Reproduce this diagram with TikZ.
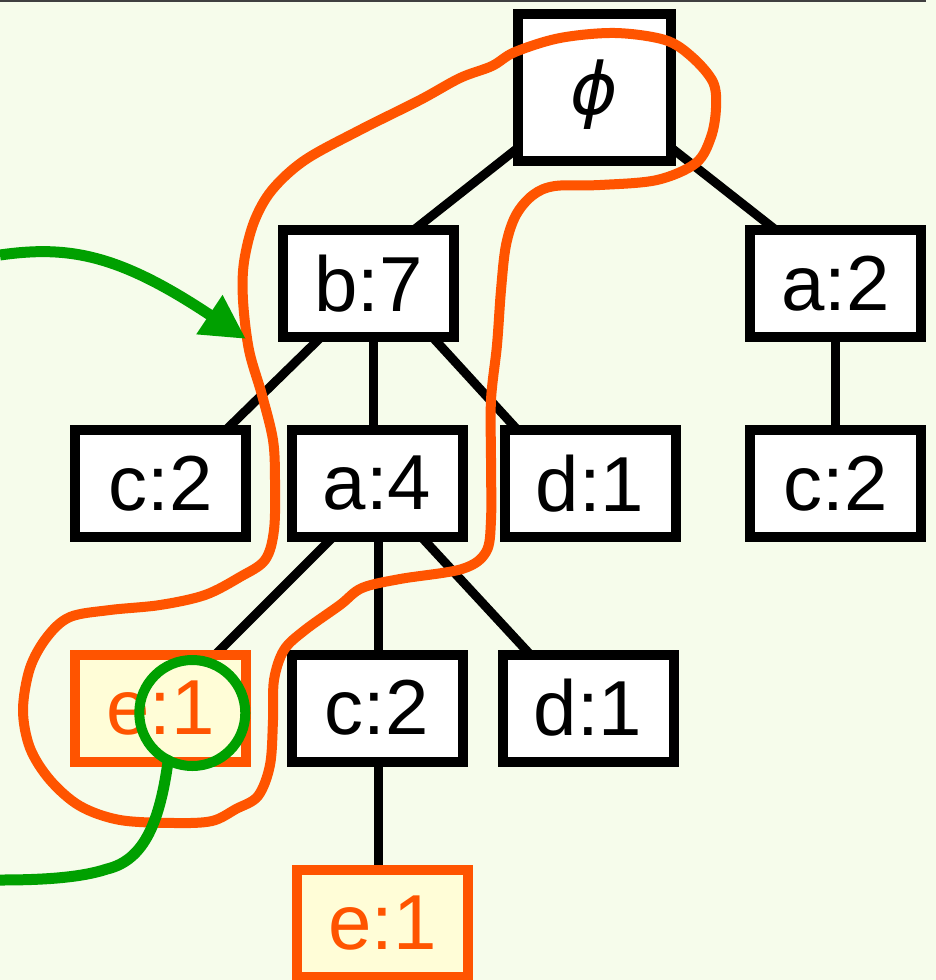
\documentclass[tikz,border=0pt]{standalone}
\usepackage{fontspec}
\setsansfont{Liberation Sans}
\newfontfamily\greekface{DejaVu Sans}
\usetikzlibrary{arrows.meta,calc}
\pgfdeclarelayer{edges}
\pgfsetlayers{edges,main}
\definecolor{paper}{RGB}{246,252,235}
\definecolor{hot}{RGB}{255,84,0}
\definecolor{mark}{RGB}{0,160,0}
\definecolor{cream}{RGB}{255,253,215}
\begin{document}
\begin{tikzpicture}[x=1pt,y=-1pt,
  item/.style={draw=black, fill=white, line width=10pt, minimum width=171pt,
    minimum height=107pt, inner sep=0pt, outer sep=0pt,
    font=\sffamily\fontsize{78}{80}\selectfont},
  hit/.style={item, draw=hot, fill=cream, text=hot},
  link/.style={line width=9pt, draw=black},
  loopline/.style={draw=hot, line width=10pt, line cap=round, line join=round},
  pointer/.style={draw=mark, line width=11pt, line cap=round}]

\begin{pgfonlayer}{edges}
  \fill[paper] (0,0) rectangle (936,980);
\end{pgfonlayer}
\useasboundingbox (0,0) rectangle (936,980);
\draw[line width=2pt, black!75] (0,1) -- (926,1);

% tree nodes
\node[item, minimum width=153pt, minimum height=147pt,
      label={[inner sep=0pt, yshift=-7pt,
              font=\greekface\itshape\fontsize{72}{72}\selectfont]center:ϕ}]
      (root) at (594.5,87.5) {};
\node[item] (b7)  at (368.8,283.4) {b:7};
\node[item] (a2)  at (835.8,283.4) {a:2};
\node[item] (c2a) at (160.8,483.4) {c:2};
\node[item] (a4)  at (377,483.4)   {a:4};
\node[item] (d1a) at (590,483.4)   {d:1};
\node[item] (c2b) at (835.8,483.4) {c:2};
\node[hit]  (e1a) at (160.8,708)   {e:1};
\node[item] (c2c) at (377,708)     {c:2};
\node[item] (d1b) at (588,708)     {d:1};
\node[hit]  (e1b) at (382.5,923.5) {e:1};

% tree edges, kept behind the boxes
\begin{pgfonlayer}{edges}
  \draw[link] (root.center) -- ($(b7)+(7,-23.4)$);
  \draw[link] (root.center) -- ($(a2)+(-21.9,-23.4)$);
  \draw[link] ($(b7)+(-9.8,16.6)$) -- ($(c2a)+(34.4,-23.4)$);
  \draw[link] ($(b7)+(4.2,16.6)$) -- ($(a4)+(-4,-23.4)$);
  \draw[link] ($(b7)+(29.7,16.6)$) -- ($(d1a)+(-45,-23.4)$);
  \draw[link] (a2.center) -- (c2b.center);
  \draw[link] ($(a4)+(-17,26.6)$) -- ($(e1a)+(19.2,-18)$);
  \draw[link] ($(a4)+(1,0)$) -- ($(c2c)+(1,0)$);
  \draw[link] ($(a4)+(19.4,26.6)$) -- ($(d1b)+(-25,-18)$);
  \draw[link] ($(c2c)+(1,0)$) -- ($(e1b)+(-4.5,0)$);
\end{pgfonlayer}

% freehand loop round the selected paths
\draw[loopline] plot[smooth cycle, tension=0.55] coordinates {
  (615,33) (665,40) (692,57) (713,82) (716,108) (711,137) (696,163)
  (657,180) (600,185) (555,186) (533,195) (516,215) (506,245) (501,290)
  (497,345) (491,400) (491,460) (491,520) (486,552) (462,569) (400,579)
  (362,588) (340,605) (305,630) (284,650) (274,680) (273,720) (270,765)
  (258,796) (236,809) (212,821) (175,823) (120,820) (80,806) (50,780)
  (30,748) (23,710) (30,668) (47,637) (70,617) (110,610) (160,605)
  (205,595) (240,577) (265,560) (274,530) (275,480) (273,440) (262,395)
  (249,350) (243,300) (244,262) (254,222) (272,190) (305,160) (360,130)
  (420,100) (460,78) (492,66) (515,52) (560,38)};

% green marker ring and its lead
\node[draw=mark, circle, line width=10pt, minimum size=106pt, inner sep=0pt,
      outer sep=0pt] (ring) at (192.3,713) {};
\coordinate (tailend) at (0,880);
\draw[pointer] (ring.243) .. controls (160,820) and (145,860) .. (107,869)
  .. controls (80,878) and (40,880) .. (tailend);

% green arrow pointing at the loop
\coordinate (gin) at (0,255);
\coordinate (gtip) at (246,339);
\draw[pointer, line cap=butt, -{Triangle[length=44pt,width=44pt]}]
  (gin) .. controls (70,245) and (120,255) .. (gtip);

\end{tikzpicture}
\end{document}
